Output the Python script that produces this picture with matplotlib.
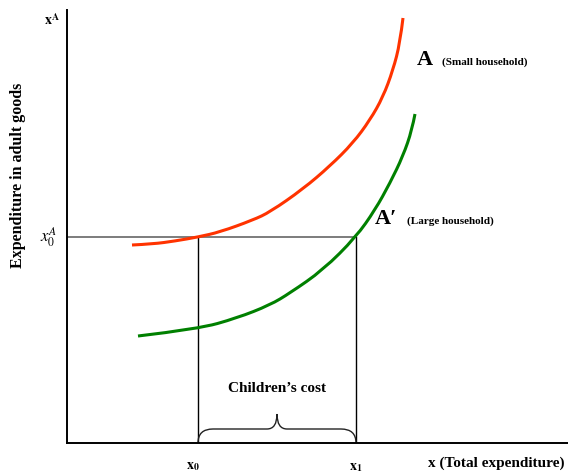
import matplotlib
matplotlib.use('Agg')
import matplotlib.pyplot as plt
from matplotlib.path import Path
from matplotlib.patches import PathPatch

plt.rcParams['font.family'] = ['Liberation Serif', 'DejaVu Serif']
plt.rcParams['mathtext.fontset'] = 'stix'

# curves (x = total expenditure, y = adult goods)
red_x = [65, 86, 108, 131, 153, 186, 203, 236, 263, 286, 303, 316, 326, 333, 336]
red_y = [198, 199, 202, 206, 211, 223, 231, 254, 277, 300, 323, 346, 373, 400, 425]
green_x = [71, 131, 170, 203, 223, 256, 289, 308, 323, 336, 345, 348]
green_y = [107, 114, 125, 138, 150, 173, 206, 233, 260, 287, 313, 329]

x0 = 131
x1 = 289
y0 = 206


def smooth_path(xs, ys):
    # quadratic b-spline style path through the read points
    pts = list(zip(xs, ys))
    verts = [pts[0]]
    codes = [Path.MOVETO]
    for i in range(1, len(pts) - 1):
        if i < len(pts) - 2:
            end = ((pts[i][0] + pts[i+1][0]) / 2, (pts[i][1] + pts[i+1][1]) / 2)
        else:
            end = pts[-1]
        verts += [pts[i], end]
        codes += [Path.CURVE3, Path.CURVE3]
    return Path(verts, codes)


fig = plt.figure(figsize=(5.68, 4.73), dpi=100)
ax = fig.add_axes([67/568, 30/473, 501/568, 433/473])
ax.set_xlim(0, 501)
ax.set_ylim(0, 433)
for s in ['top', 'right']:
    ax.spines[s].set_visible(False)
for s in ['left', 'bottom']:
    ax.spines[s].set_linewidth(1.4)
ax.set_xticks([])
ax.set_yticks([])

ax.add_patch(PathPatch(smooth_path(red_x, red_y), fill=False, ec='#ff3300', lw=2.2, capstyle='butt', zorder=3))
ax.add_patch(PathPatch(smooth_path(green_x, green_y), fill=False, ec='#008000', lw=2.2, capstyle='butt', zorder=3))

ax.plot([0, x1], [y0, y0], color='#666666', lw=1.2, zorder=1)
ax.plot([x0, x0], [0, y0], color='black', lw=1, zorder=1)
ax.plot([x1, x1], [0, y0], color='black', lw=1, zorder=1)

# brace between x0 and x1
mid = (x0 + x1) / 2
arm = 14
tip = 29
r = 10
verts = [(x0, 0), (x0, arm), (x0 + r*1.5, arm),
         (mid - r, arm),
         (mid, arm), (mid, tip),
         (mid, arm), (mid + r, arm),
         (x1 - r*1.5, arm),
         (x1, arm), (x1, 0)]
codes = [Path.MOVETO, Path.CURVE3, Path.CURVE3,
         Path.LINETO,
         Path.CURVE3, Path.CURVE3,
         Path.CURVE3, Path.CURVE3,
         Path.LINETO,
         Path.CURVE3, Path.CURVE3]
ax.add_patch(PathPatch(Path(verts, codes), fill=False, lw=1, ec='#222222'))

ax.text(mid, 55, "Children\u2019s cost", ha='center', va='center',
        fontsize=11, fontweight='bold')

ax.text(350, 383, 'A', fontsize=16, fontweight='bold', va='center')
ax.text(375, 381, '(Small household)', fontsize=8, fontweight='bold', va='center')
ax.text(308, 224, 'A\u2032', fontsize=16, fontweight='bold', va='center')
ax.text(340, 222, '(Large household)', fontsize=8, fontweight='bold', va='center')

ax.text(x0 - 5, -23, r'$\mathbf{x}_\mathbf{0}$', fontsize=10, ha='center', va='center')
ax.text(x1, -24, r'$\mathbf{x}_\mathbf{1}$', fontsize=10, ha='center', va='center')
ax.text(-7, 423, r'$\mathbf{x}^\mathbf{A}$', fontsize=10, ha='right', va='center')
ax.text(-9, y0, r'$x_0^A$', fontsize=12, ha='right', va='center')

ax.text(497, -20, 'x (Total expenditure)', fontsize=11, fontweight='bold',
        ha='right', va='center', clip_on=False)
fig.text(18/568, 1 - 175/473, 'Expenditure in adult goods', rotation=90,
         fontsize=11.5, fontweight='bold', ha='center', va='center')

fig.savefig('out.png', dpi=100)
